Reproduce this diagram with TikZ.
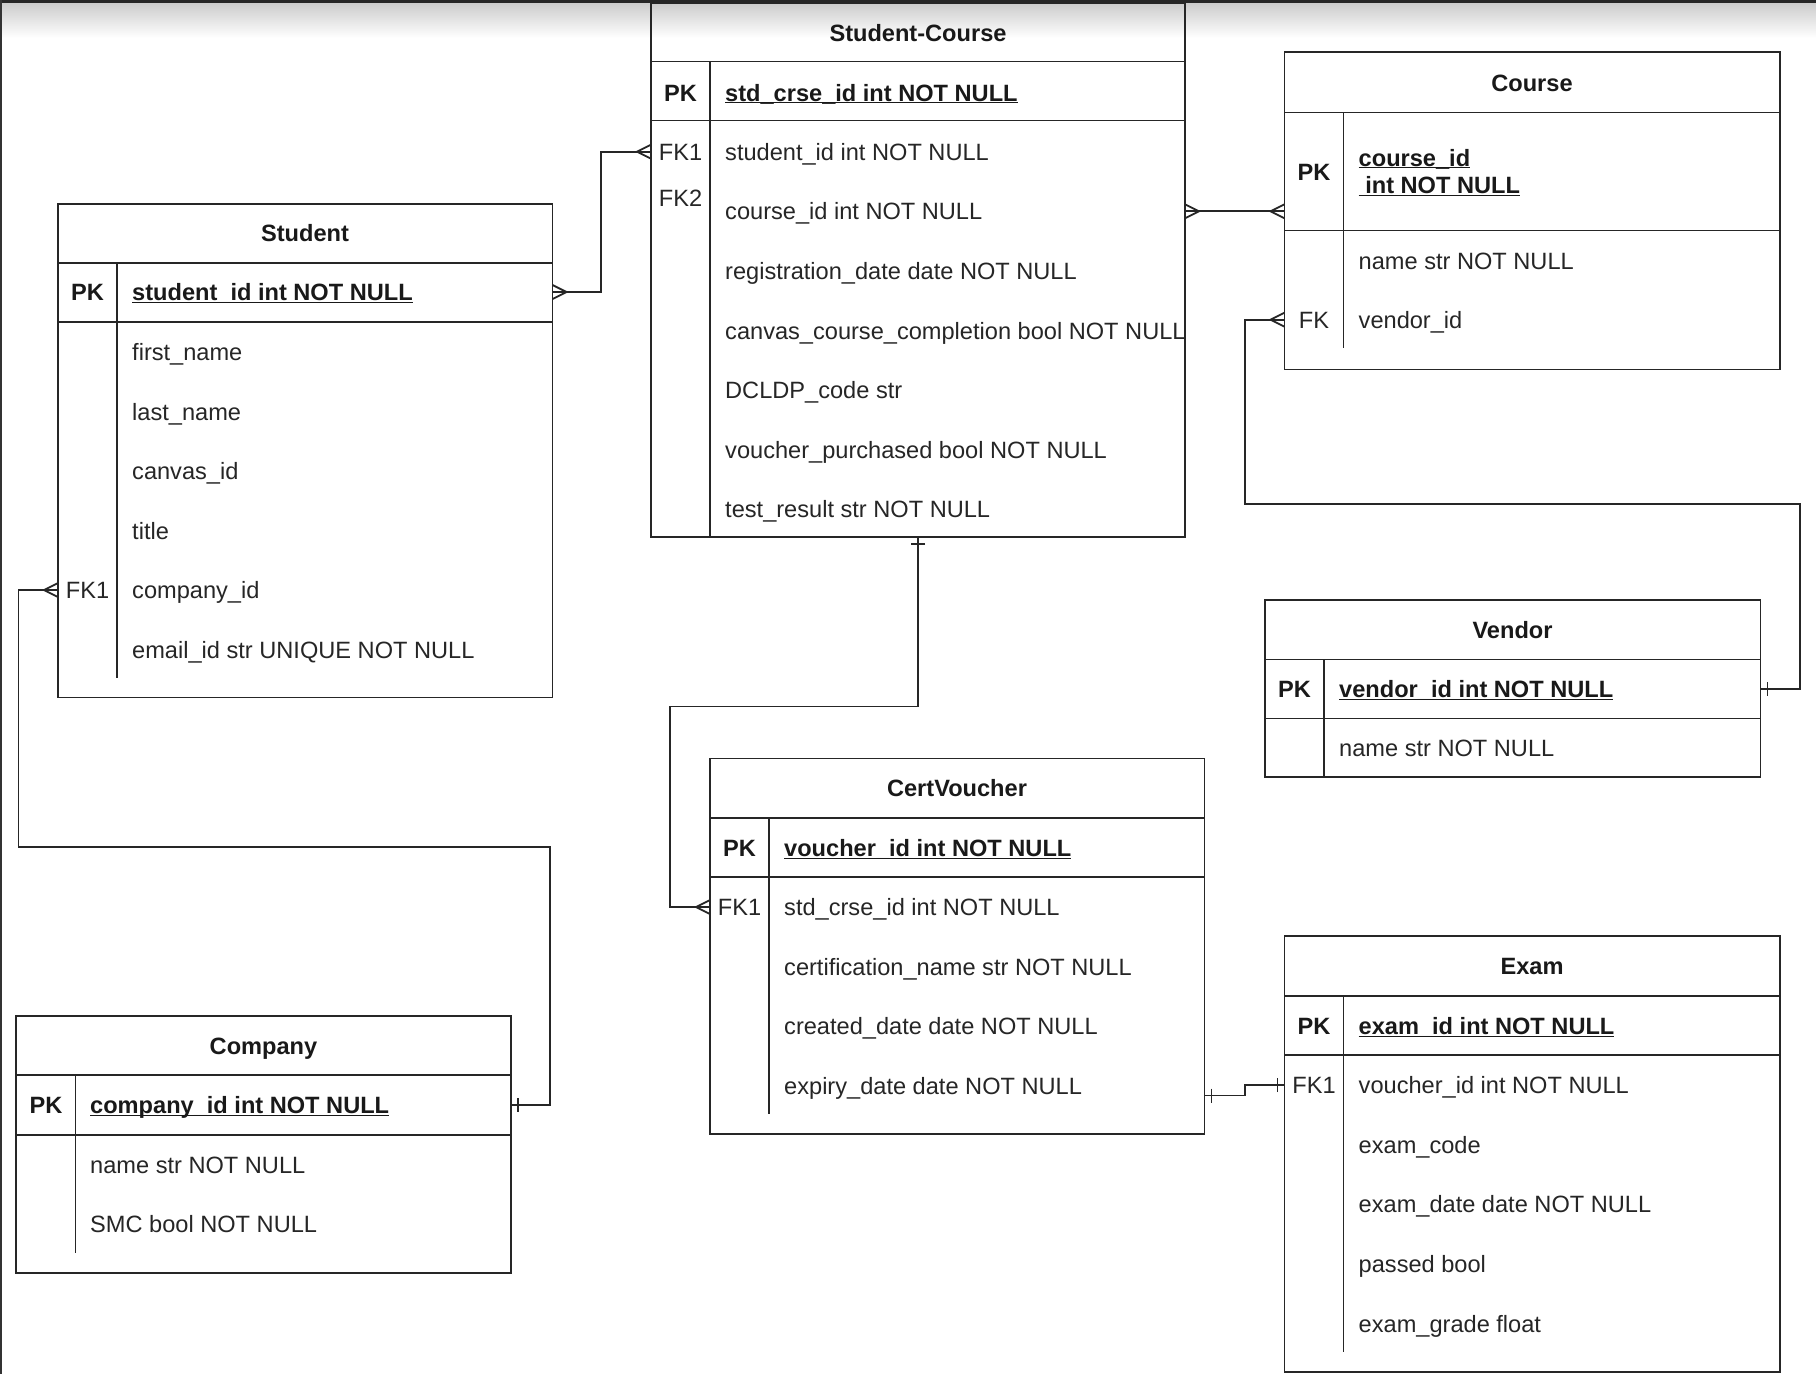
\documentclass[tikz,border=0pt]{standalone}
\usepackage{fontspec}
\setmainfont{Liberation Sans}
\usepackage{tikz}
\newcommand{\erfont}{\fontsize{23.6}{28}\selectfont}
\newcommand{\pkul}[1]{\underline{\smash{#1}}}

\begin{document}
\begin{tikzpicture}[x=1pt, y=-1pt,
  tbl/.style={draw=black!85, line width=1.8pt, anchor=north west, inner sep=0pt, outer sep=0pt},
  rowline/.style={draw=black!85, line width=1.8pt},
  ttl/.style={font=\erfont\bfseries, text=black!90, text height=17pt, text depth=0pt, inner sep=0pt},
  key/.style={font=\erfont\bfseries, text=black!90, text height=17pt, text depth=0pt, inner sep=0pt},
  fkey/.style={key, font=\erfont, text=black!85},
  fld/.style={anchor=west, font=\erfont, text=black!85, text height=17pt, text depth=0pt, inner sep=0pt},
  pkfld/.style={fld, font=\erfont\bfseries, text=black!90},
  conn/.style={draw=black!85, line width=1.8pt},
  crowfoot/.pic={\draw[conn] (0,-7) -- (14,0) -- (0,7);},
  onebar/.pic={\draw[conn] (7,-7) -- (7,7);}
]
  % ---- Page ----
  \useasboundingbox (0,0) rectangle (1816,1374);
  \fill[white] (0,0) rectangle (1816,1374);
  \shade[top color=black!20, bottom color=white] (0,3) rectangle (1816,38);
  \fill[black!85] (0,0) rectangle (1816,3);
  \fill[black!80] (0,0) rectangle (1.5,1374);

  % ---- Student ----
  \node[tbl, minimum width=494.5pt, minimum height=493.5pt] (student) at (58,204) {};
  \draw[rowline] (58,263) -- (552.5,263) (58,322) -- (552.5,322) (117,263) -- (117,677.5);
  \node[ttl] (st-t) at (305,233) {Student};
  \node[key] (st-k) at (87.5,292) {PK};
  \node[pkfld] (st-pk) at (132,292) {\pkul{student\_id int NOT NULL}};
  \foreach \f [count=\i] in {first\_name, last\_name, canvas\_id, title, company\_id, email\_id str UNIQUE NOT NULL}
    \node[fld] (st-r\i) at (132,{292.5+59.5*\i}) {\f};
  \node[fkey] (st-fk) at (87.5,589.5) {FK1};

  % ---- Student-Course ----
  \node[tbl, minimum width=534pt, minimum height=533.5pt] (stdcrse) at (651,3.5) {};
  \draw[rowline] (651,61.5) -- (1185,61.5) (651,120.5) -- (1185,120.5) (710,61.5) -- (710,537);
  \node[ttl] (sc-t) at (918,32.5) {Student-Course};
  \node[key] (sc-k) at (680.5,92.5) {PK};
  \node[pkfld] (sc-pk) at (725,92.5) {\pkul{std\_crse\_id int NOT NULL}};
  \foreach \f [count=\i] in {student\_id int NOT NULL, course\_id int NOT NULL, registration\_date date NOT NULL, canvas\_course\_completion bool NOT NULL, DCLDP\_code str, voucher\_purchased bool NOT NULL, test\_result str NOT NULL}
    \node[fld] (sc-r\i) at (725,{92.1+59.6*\i}) {\f};
  \node[fkey] (sc-fk1) at (680.5,151.7) {FK1};
  \node[fkey] (sc-fk2) at (680.5,198) {FK2};

  % ---- Course ----
  \node[tbl, minimum width=495.5pt, minimum height=317.5pt] (course) at (1284.5,52) {};
  \draw[rowline] (1284.5,112.5) -- (1780,112.5) (1284.5,230.5) -- (1780,230.5) (1343.5,112.5) -- (1343.5,347.5);
  \node[ttl] (cs-t) at (1532,82.5) {Course};
  \node[key] (cs-k) at (1314,171.5) {PK};
  \node[pkfld] (cs-pk) at (1358.5,157.5) {\pkul{course\_id}};
  \node[pkfld] (cs-pk2) at (1358.5,185.3) {\pkul{\hspace{0.28em}int NOT NULL}};
  \node[fld] (cs-r1) at (1358.5,260.6) {name str NOT NULL};
  \node[fld] (cs-r2) at (1358.5,319.7) {vendor\_id};
  \node[fkey] (cs-fk) at (1314,319.7) {FK};

  % ---- Vendor ----
  \node[tbl, minimum width=495.5pt, minimum height=177pt] (vendor) at (1265,600) {};
  \draw[rowline] (1265,659.5) -- (1760.5,659.5) (1265,718.5) -- (1760.5,718.5) (1324,659.5) -- (1324,777);
  \node[ttl] (vd-t) at (1512.5,629.5) {Vendor};
  \node[key] (vd-k) at (1294.5,689) {PK};
  \node[pkfld] (vd-pk) at (1339,689) {\pkul{vendor\_id int NOT NULL}};
  \node[fld] (vd-r1) at (1339,748) {name str NOT NULL};

  % ---- CertVoucher ----
  \node[tbl, minimum width=494.5pt, minimum height=375.5pt] (voucher) at (710,758.5) {};
  \draw[rowline] (710,818) -- (1204.5,818) (710,877) -- (1204.5,877) (769,818) -- (769,1114);
  \node[ttl] (cv-t) at (957,788) {CertVoucher};
  \node[key] (cv-k) at (739.5,848) {PK};
  \node[pkfld] (cv-pk) at (784,848) {\pkul{voucher\_id int NOT NULL}};
  \foreach \f [count=\i] in {std\_crse\_id int NOT NULL, certification\_name str NOT NULL, created\_date date NOT NULL, expiry\_date date NOT NULL}
    \node[fld] (cv-r\i) at (784,{847.5+59.5*\i}) {\f};
  \node[fkey] (cv-fk) at (739.5,907) {FK1};

  % ---- Exam ----
  \node[tbl, minimum width=495.5pt, minimum height=436pt] (exam) at (1284.5,936) {};
  \draw[rowline] (1284.5,996) -- (1780,996) (1284.5,1055) -- (1780,1055) (1343.5,996) -- (1343.5,1351.5);
  \node[ttl] (ex-t) at (1532,966) {Exam};
  \node[key] (ex-k) at (1314,1026) {PK};
  \node[pkfld] (ex-pk) at (1358.5,1026) {\pkul{exam\_id int NOT NULL}};
  \foreach \f [count=\i] in {voucher\_id int NOT NULL, exam\_code, exam\_date date NOT NULL, passed bool, exam\_grade float}
    \node[fld] (ex-r\i) at (1358.5,{1025.5+59.6*\i}) {\f};
  \node[fkey] (ex-fk) at (1314,1085) {FK1};

  % ---- Company ----
  \node[tbl, minimum width=495pt, minimum height=257pt] (company) at (16,1016) {};
  \draw[rowline] (16,1075) -- (511,1075) (16,1135) -- (511,1135) (75.5,1075) -- (75.5,1253);
  \node[ttl] (cm-t) at (263.5,1046) {Company};
  \node[key] (cm-k) at (46,1105) {PK};
  \node[pkfld] (cm-pk) at (90,1105) {\pkul{company\_id int NOT NULL}};
  \node[fld] (cm-r1) at (90,1164.5) {name str NOT NULL};
  \node[fld] (cm-r2) at (90,1224) {SMC bool NOT NULL};

  % ---- Relations ----
  % Student >-< Student-Course
  \draw[conn] (student.east |- st-pk) -- ++(48.5,0) |- (stdcrse.west |- sc-r1);
  \pic at (student.east |- st-pk) {crowfoot};
  \pic[rotate=180] at (stdcrse.west |- sc-r1) {crowfoot};
  % Student-Course >-< Course
  \draw[conn] (stdcrse.east |- sc-r2) -- (course.west |- sc-r2);
  \pic at (stdcrse.east |- sc-r2) {crowfoot};
  \pic[rotate=180] at (course.west |- sc-r2) {crowfoot};
  % Course >-| Vendor
  \draw[conn] (course.west |- cs-r2) -- ++(-39.5,0) |- ++(555,184) |- (vendor.east |- vd-pk);
  \pic[rotate=180] at (course.west |- cs-r2) {crowfoot};
  \pic at (vendor.east |- vd-pk) {onebar};
  % Student >-| Company
  \draw[conn] (student.west |- st-r5) -- ++(-39.5,0) |- ++(531.5,257) |- (company.east |- cm-pk);
  \pic[rotate=180] at (student.west |- st-r5) {crowfoot};
  \pic at (company.east |- cm-pk) {onebar};
  % Student-Course |-< CertVoucher
  \draw[conn] (stdcrse.south) |- ++(-248,169.5) |- (voucher.west |- cv-r1);
  \pic[rotate=-90] at (stdcrse.south) {onebar};
  \pic[rotate=180] at (voucher.west |- cv-r1) {crowfoot};
  % CertVoucher |-| Exam
  \path (voucher.east |- cv-r4) ++(0,10) coordinate (cv-out);
  \draw[conn] (cv-out) -- ++(40.5,0) |- (exam.west |- ex-r1);
  \pic at (cv-out) {onebar};
  \pic[rotate=180] at (exam.west |- ex-r1) {onebar};
\end{tikzpicture}
\end{document}
